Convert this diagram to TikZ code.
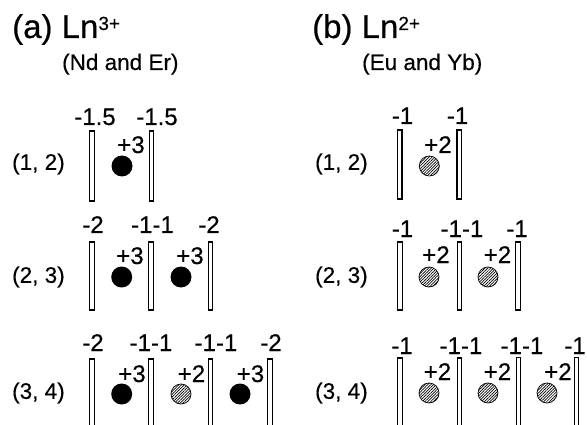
\documentclass[tikz,border=0pt]{standalone}
\usepackage{fontspec}
\setmainfont{Liberation Sans}[FakeBold=0.4]
\usetikzlibrary{patterns.meta}
\begin{document}
\begin{tikzpicture}[x=1pt,y=-1pt,
  bar/.style={draw, line width=1.2pt, fill=white, minimum width=4.5pt, inner sep=0pt},
  ion/.style={circle, fill=black, minimum size=21pt, inner sep=0pt},
  hion/.style={circle, draw, line width=0.7pt, pattern={Lines[angle=45,distance=2pt,line width=0.7pt]}, minimum size=20pt, inner sep=0pt},
  chg/.style={anchor=base, inner sep=0pt, font=\fontsize{24}{26}\selectfont},
  pm/.style={anchor=base, inner sep=0pt, font=\fontsize{24}{26}\selectfont},
  rowlab/.style={anchor=west, inner sep=0pt, font=\fontsize{22.5}{25}\selectfont},
  head/.style={anchor=base west, inner sep=0pt, font=\fontsize{33}{36}\selectfont},
  sub/.style={anchor=base west, inner sep=0pt, font=\fontsize{22.5}{25}\selectfont}]
\clip (0,0) rectangle (587,425);
% headings
\node[head] (ha) at (12,38) {(a) Ln\raisebox{8pt}{\fontsize{19}{19}\selectfont 3+}};
\node[sub] (sa) at (62,70) {(Nd and Er)};
\node[head] (hb) at (312,38) {(b) Ln\raisebox{8pt}{\fontsize{19}{19}\selectfont 2+}};
\node[sub] (sb) at (362,70) {(Eu and Yb)};
% row labels
\node[rowlab] (la1) at (12,164) {(1, 2)};
\node[rowlab] (la2) at (12,277) {(2, 3)};
\node[rowlab] (la3) at (12,393) {(3, 4)};
\node[rowlab] (lb1) at (315,164) {(1, 2)};
\node[rowlab] (lb2) at (315,277) {(2, 3)};
\node[rowlab] (lb3) at (315,393) {(3, 4)};
% ---------- panel (a) ----------
% row 1
\node[bar, minimum height=70pt] (a1b1) at (92,166) {};
\node[bar, minimum height=70pt] (a1b2) at (151.5,166) {};
\node[ion] (a1i1) at (122,166) {};
\node[pm] (a1p1) at (131,153) {+3};
\node[chg] (a1c1) at (95,125) {-1.5};
\node[chg] (a1c2) at (157,125) {-1.5};
% row 2
\node[bar, minimum height=68pt] (a2b1) at (92,276) {};
\node[bar, minimum height=68pt] (a2b2) at (151,276) {};
\node[bar, minimum height=68pt] (a2b3) at (210.5,276) {};
\node[ion] (a2i1) at (121.7,277) {};
\node[ion] (a2i2) at (181,277) {};
\node[pm] (a2p1) at (130,264) {+3};
\node[pm] (a2p2) at (190,264) {+3};
\node[chg] (a2c1) at (93,233) {-2};
\node[chg] (a2c2) at (152.5,233) {-1-1};
\node[chg] (a2c3) at (209,233) {-2};
% row 3
\node[bar, minimum height=70pt] (a3b1) at (92,394) {};
\node[bar, minimum height=70pt] (a3b2) at (151,394) {};
\node[bar, minimum height=70pt] (a3b3) at (210.5,394) {};
\node[bar, minimum height=70pt] (a3b4) at (270,394) {};
\node[ion] (a3i1) at (121.7,394) {};
\node[hion] (a3i2) at (181,394) {};
\node[ion] (a3i3) at (240,394) {};
\node[pm] (a3p1) at (132,382) {+3};
\node[pm] (a3p2) at (191.5,382) {+2};
\node[pm] (a3p3) at (250.5,382) {+3};
\node[chg] (a3c1) at (93,351) {-2};
\node[chg] (a3c2) at (151,351) {-1-1};
\node[chg] (a3c3) at (216,351) {-1-1};
\node[chg] (a3c4) at (271,351) {-2};
% ---------- panel (b) ----------
% row 1
\node[bar, minimum height=69pt] (b1b1) at (399.7,164.5) {};
\node[bar, minimum height=69pt] (b1b2) at (459.2,164.5) {};
\node[hion] (b1i1) at (429.3,166) {};
\node[pm] (b1p1) at (438,153) {+2};
\node[chg] (b1c1) at (402.5,124) {-1};
\node[chg] (b1c2) at (457.5,124) {-1};
% row 2
\node[bar, minimum height=68pt] (b2b1) at (400,276) {};
\node[bar, minimum height=68pt] (b2b2) at (459.5,276) {};
\node[bar, minimum height=68pt] (b2b3) at (518,276) {};
\node[hion] (b2i1) at (429,277) {};
\node[hion] (b2i2) at (488,277) {};
\node[pm] (b2p1) at (436,263) {+2};
\node[pm] (b2p2) at (497.5,263) {+2};
\node[chg] (b2c1) at (402.5,237) {-1};
\node[chg] (b2c2) at (462,237) {-1-1};
\node[chg] (b2c3) at (517,237) {-1};
% row 3
\node[bar, minimum height=70pt] (b3b1) at (400,393) {};
\node[bar, minimum height=70pt] (b3b2) at (459.5,393) {};
\node[bar, minimum height=71pt] (b3b3) at (518.5,393) {};
\node[bar, minimum height=71pt] (b3b4) at (576.5,393) {};
\node[hion] (b3i1) at (429,393) {};
\node[hion] (b3i2) at (488,393) {};
\node[hion] (b3i3) at (547,393) {};
\node[pm] (b3p1) at (437.5,380) {+2};
\node[pm] (b3p2) at (497.5,380) {+2};
\node[pm] (b3p3) at (558,380) {+2};
\node[chg] (b3c1) at (402,354) {-1};
\node[chg] (b3c2) at (461,354) {-1-1};
\node[chg] (b3c3) at (522,354) {-1-1};
\node[chg] (b3c4) at (575,354) {-1};
\end{tikzpicture}
\end{document}
